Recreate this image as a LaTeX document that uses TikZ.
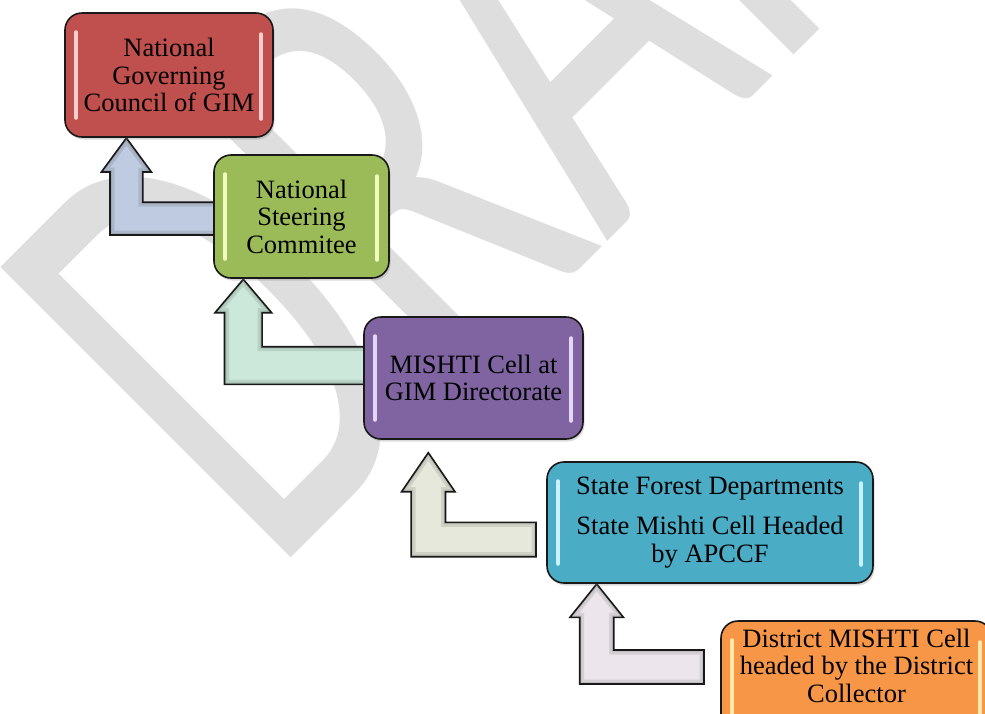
\documentclass[tikz,border=0pt]{standalone}
\usepackage{fontspec}
\setmainfont{Liberation Serif}
\newfontfamily\wmfont{Carlito}
\usetikzlibrary{calc,shadows}
\definecolor{wmgray}{RGB}{222,222,222}
\definecolor{cred}{RGB}{192,80,77}
\definecolor{cgreen}{RGB}{155,187,89}
\definecolor{cpurple}{RGB}{128,100,162}
\definecolor{cblue}{RGB}{75,172,198}
\definecolor{corange}{RGB}{247,150,70}
\definecolor{ablue}{RGB}{190,203,224}
\definecolor{amint}{RGB}{204,232,218}
\definecolor{akhaki}{RGB}{229,232,218}
\definecolor{amauve}{RGB}{236,230,236}
\definecolor{edge}{RGB}{25,25,25}
\definecolor{hred}{RGB}{248,205,204}
\definecolor{hgreen}{RGB}{240,255,190}
\definecolor{hpurple}{RGB}{228,214,245}
\definecolor{hblue}{RGB}{200,242,255}
\definecolor{horange}{RGB}{255,232,170}

\pgfdeclarelayer{wm}
\pgfdeclarelayer{bg}
\pgfsetlayers{wm,bg,main}

\tikzset{
  box/.style={draw=edge, line width=1.6pt, rounded corners=17pt, inner sep=0pt,
    outer sep=0pt, align=center, font=\fontsize{26.5}{27.5}\selectfont, fill=#1,
    drop shadow={shadow xshift=1.5pt, shadow yshift=-2.5pt, opacity=0.3}},
  boxtext/.style={align=center, inner sep=0pt, font=\fontsize{26.5}{27.5}\selectfont},
  shine/.style={line width=3.5pt, line cap=round, draw=#1},
  wmtext/.style={text=wmgray, inner sep=0pt, font=\wmfont\fontsize{640}{640}\selectfont},
}

% #1 colour, #2 tip, #3 right end, #4 half shaft, #5 half head, #6 head length, #7 depth to bar bottom
\newcommand\bentarrow[7]{%
  \path[save path=\arrowpath] let \p1=(#2), \p2=(#3) in
    (\x1,\y1) -- (\x1+#5pt,\y1-#6pt) -- (\x1+#4pt,\y1-#6pt)
    -- (\x1+#4pt,\y1-#7pt+2*#4pt) -- (\x2,\y1-#7pt+2*#4pt)
    -- (\x2,\y1-#7pt) -- (\x1-#4pt,\y1-#7pt) -- (\x1-#4pt,\y1-#6pt)
    -- (\x1-#5pt,\y1-#6pt) -- cycle;
  \fill[#1, use path=\arrowpath];
  \begin{scope}
    \clip[use path=\arrowpath];
    \draw[#1!55!black, opacity=0.22, line width=9pt, line join=miter, use path=\arrowpath];
    \draw[#1!55!black, opacity=0.22, line width=4pt, line join=miter, use path=\arrowpath];
  \end{scope}
  \draw[edge, line width=1.6pt, line join=miter, use path=\arrowpath];}

\begin{document}
\begin{tikzpicture}[x=1pt,y=-1pt]
\useasboundingbox (0,0) rectangle (985,713);

% watermark
\begin{pgfonlayer}{wm}
  \begin{scope}
    \clip (0,0) rectangle (985,713);
    \node[wmtext, rotate=45, anchor=base west] (wmk) at (271,578) {\scalebox{0.64}[1]{DRAFT}};
  \end{scope}
\end{pgfonlayer}

\begin{scope}
\clip (0,0) rectangle (985,713);
% boxes
\node[box=cred, minimum width=208pt, minimum height=124pt] (b1) at (169,75)
  {National\\Governing\\Council of GIM};
\node[box=cgreen, minimum width=175pt, minimum height=123pt] (b2) at (301.5,216.5)
  {National\\Steering\\Commitee};
\node[box=cpurple, minimum width=219pt, minimum height=122pt] (b3) at (473.5,378)
  {MISHTI Cell at\\GIM Directorate};
\node[box=cblue, minimum width=326pt, minimum height=121pt] (b4) at (710,522.5)
  {State Forest Departments\\[12.5pt]State Mishti Cell Headed\\by APCCF};
\node[box=corange, minimum width=271pt, minimum height=130pt] (b5) at (856.5,686) {};

% highlights
\foreach \b/\c in {b1/hred, b2/hgreen, b3/hpurple, b4/hblue, b5/horange}{
  \draw[shine=\c] ($(\b.north west)+(11,19)$) -- ($(\b.south west)+(11,-19)$);
  \draw[shine=\c] ($(\b.north east)+(-12,21)$) -- ($(\b.south east)+(-12,-18)$);
}
\node[boxtext, anchor=north] (t5) at ($(b5.north)+(0,7.6)$)
  {District MISHTI Cell\\headed by the District\\Collector};
\end{scope}

% arrows
\begin{pgfonlayer}{bg}
  \bentarrow{ablue}{$(b1.south west)+(61.4,1)$}{$(b2.west)+(6,0)$}{16.4}{25}{34}{97}
  \bentarrow{amint}{$(b2.south west)+(29.3,1.3)$}{$(b3.west)+(6,0)$}{18.8}{28.3}{33.4}{105}
  \bentarrow{akhaki}{$(b3.south west)+(64.3,13.7)$}{$(b4.west)+(-11,0)$}{17.2}{26.7}{39}{104}
  \bentarrow{amauve}{$(b4.south west)+(49.7,1)$}{$(b5.west)+(-17,0)$}{17}{26.7}{33.3}{100}
\end{pgfonlayer}
\end{tikzpicture}
\end{document}
